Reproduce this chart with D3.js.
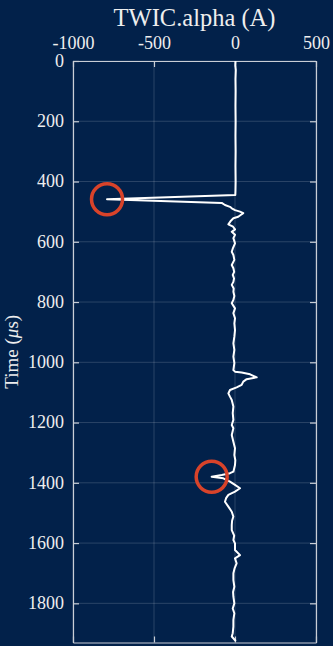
<!DOCTYPE html>
<html>
<head>
<meta charset="utf-8">
<script src="https://cdn.jsdelivr.net/npm/d3@7"></script>
<style>
  html, body { margin: 0; padding: 0; background: #02214a; }
  svg { display: block; }
</style>
</head>
<body>
<svg id="chart" width="333" height="646"></svg>
<script>
// Sampled trace: time (µs) and TWIC.alpha current (A)
const timeUs = [0, 15, 30, 60, 100, 150, 200, 250, 300, 350, 400, 430, 445, 459, 471, 478, 484, 489, 495, 500,
  505, 511, 517, 522, 530, 542, 550, 559, 567, 577, 588, 605, 620, 633, 644, 660, 677, 688, 700, 710,
  722, 733, 743, 755, 766, 780, 793, 804, 821, 837, 854, 871, 893, 915, 937, 959, 981, 1003, 1026, 1031,
  1034, 1040, 1050, 1056, 1064, 1075, 1083, 1092, 1103, 1114, 1125, 1147, 1169, 1191, 1208, 1219, 1241, 1264, 1285, 1308,
  1325, 1341, 1363, 1368, 1374, 1380, 1385, 1396, 1407, 1418, 1429, 1440, 1451, 1463, 1479, 1496, 1512, 1526, 1540, 1557,
  1575, 1590, 1601, 1623, 1640, 1651, 1667, 1683, 1700, 1723, 1745, 1762, 1778, 1800, 1817, 1833, 1855, 1877, 1899, 1910, 1925];
const alphaA = [3, 2, 5, 3, 4, 3, 4, 3, 4, 3, 4, 3, 2, -790, -82, -62, -31, -20, 0, 31,
  51, 35, 20, -10, -25, -41, -12, 0, -20, 0, -10, 0, -12, -20, -10, -4, -20, -10, -5, -14,
  -6, -10, -20, -8, -10, -4, -10, -20, 0, -10, 0, -4, 0, -4, -10, -4, -10, -4, -10, 0,
  41, 93, 134, 72, 51, 41, 10, -31, -41, -31, -20, -10, -14, -10, -20, -10, -20, -10, 0, -4,
  2, 0, -10, -31, -82, -144, -72, -31, 0, 31, 0, -41, -55, -62, -41, -20, -10, -18, -20, -20,
  -5, -10, 0, 0, 31, 0, 10, -2, -10, -10, -4, -12, -10, -4, -14, -4, -10, -10, -14, -20, 5];

// Highlighted samples (indices into the trace)
const markedIdx = [13, 85];

// Axis ticks
const xTicks = [-1000, -500, 0, 500];
const yTicks = [0, 200, 400, 600, 800, 1000, 1200, 1400, 1600, 1800];
const xDomain = [-1000, 500];
const yDomain = [0, 1930];

const W = 333, H = 646;
const margin = { top: 61, right: 17, bottom: 3.5, left: 73 };
const pw = W - margin.left - margin.right;
const ph = H - margin.top - margin.bottom;

const ink = "#eeeeee";
const axisColor = "#c9ced6";
const gridColor = "rgba(255,255,255,0.16)";
const font = "'Liberation Serif', 'Times New Roman', serif";
const plain = d => String(d);

const svg = d3.select("#chart");
const g = svg.append("g").attr("transform", `translate(${margin.left},${margin.top})`);

const x = d3.scaleLinear().domain(xDomain).range([0, pw]);
const y = d3.scaleLinear().domain(yDomain).range([0, ph]);

// grid
g.append("g").selectAll("line").data(xTicks).join("line")
  .attr("x1", d => x(d)).attr("x2", d => x(d))
  .attr("y1", 0).attr("y2", ph)
  .attr("stroke", gridColor).attr("stroke-width", 1);
g.append("g").selectAll("line").data(yTicks).join("line")
  .attr("x1", 0).attr("x2", pw)
  .attr("y1", d => y(d)).attr("y2", d => y(d))
  .attr("stroke", gridColor).attr("stroke-width", 1);

// axes (ticks point inward on all four sides)
const tickLen = 6;
const axTop = g.append("g")
  .call(d3.axisTop(x).tickValues(xTicks).tickFormat(plain).tickSizeInner(-tickLen).tickSizeOuter(0).tickPadding(12.5));
const axBottom = g.append("g").attr("transform", `translate(0,${ph})`)
  .call(d3.axisBottom(x).tickValues(xTicks).tickSizeInner(-tickLen).tickSizeOuter(0).tickFormat(""));
const axLeft = g.append("g")
  .call(d3.axisLeft(y).tickValues(yTicks).tickFormat(plain).tickSizeInner(-tickLen).tickSizeOuter(0).tickPadding(9));
const axRight = g.append("g").attr("transform", `translate(${pw},0)`)
  .call(d3.axisRight(y).tickValues(yTicks).tickSizeInner(-tickLen).tickSizeOuter(0).tickFormat(""));

[axTop, axBottom, axLeft, axRight].forEach(a => {
  a.selectAll("path.domain").attr("stroke", axisColor).attr("stroke-width", 1.2);
  a.selectAll(".tick line").attr("stroke", axisColor).attr("stroke-width", 1.2);
  a.selectAll(".tick text").attr("fill", ink).attr("font-family", font).attr("font-size", 18);
});
axLeft.selectAll(".tick text").attr("dy", "0.3em");

// trace
const pts = timeUs.map((t, i) => ({ t, v: alphaA[i] }));
const line = d3.line().x(d => x(d.v)).y(d => y(d.t));
g.append("path").datum(pts)
  .attr("d", line)
  .attr("fill", "none")
  .attr("stroke", "#ffffff")
  .attr("stroke-width", 2)
  .attr("stroke-linejoin", "round");

// highlight rings
g.append("g").selectAll("circle").data(markedIdx.map(i => pts[i])).join("circle")
  .attr("cx", d => x(d.v)).attr("cy", d => y(d.t))
  .attr("r", 15.5)
  .attr("fill", "none")
  .attr("stroke", "#d8432a")
  .attr("stroke-width", 3.5);

// titles
svg.append("text")
  .attr("x", margin.left + pw / 2).attr("y", 25.5)
  .attr("text-anchor", "middle")
  .attr("fill", ink).attr("font-family", font).attr("font-size", 24.5)
  .text("TWIC.alpha (A)");

const yl = svg.append("text")
  .attr("transform", `translate(18,${margin.top + ph / 2}) rotate(-90)`)
  .attr("text-anchor", "middle")
  .attr("fill", ink).attr("font-family", font).attr("font-size", 19);
yl.append("tspan").text("Time (");
yl.append("tspan").attr("font-style", "italic").text("\u03BC");
yl.append("tspan").text("s)");
</script>
</body>
</html>
